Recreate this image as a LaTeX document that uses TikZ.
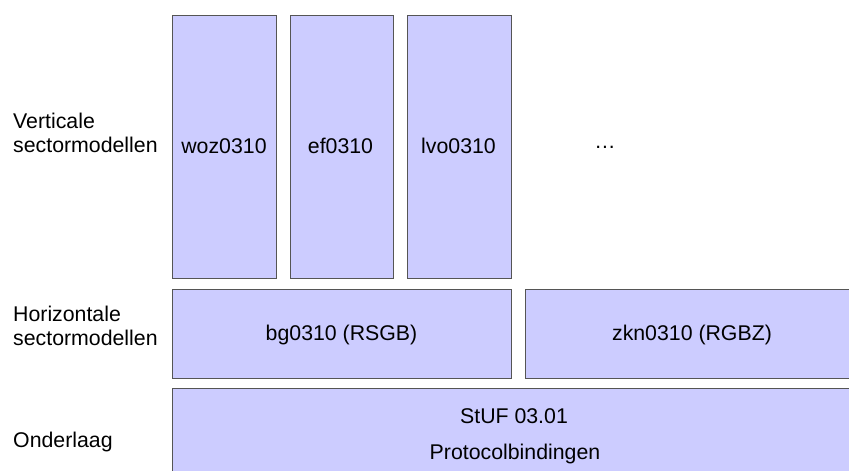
\documentclass[tikz,border=0pt]{standalone}
\usepackage{fontspec}
\setmainfont{Liberation Sans}
\definecolor{boxfill}{HTML}{CCCCFF}
\definecolor{boxline}{HTML}{555555}
\begin{document}
\begin{tikzpicture}[x=1pt,y=-1pt,
  blk/.style={draw=boxline,fill=boxfill,line width=1pt,inner sep=0pt,rectangle},
  txt/.style={font=\fontsize{21.3}{24}\selectfont,text=black,inner sep=0pt,anchor=base},
  lbl/.style={font=\fontsize{21.3}{24}\selectfont,text=black,inner sep=0pt,align=left,anchor=base west}]
\useasboundingbox (0,0) rectangle (849,471);
\clip (0,0) rectangle (849,471);
\node[blk,minimum width=104pt,minimum height=263pt] (woz) at (224,146.5) {};
\node[blk,minimum width=103pt,minimum height=263pt] (ef) at (341.5,146.5) {};
\node[blk,minimum width=104pt,minimum height=263pt] (lvo) at (459,146.5) {};
\node[txt] (wozt) at (224,153) {woz0310};
\node[txt] (eft) at (340.5,153) {ef0310};
\node[txt] (lvot) at (458.5,153) {lvo0310};
\node[txt] (dots) at (605,148) {\dots};
\node[blk,minimum width=339pt,minimum height=89pt] (bg) at (341.5,333.5) {};
\node[txt] (bgt) at (341.5,340) {bg0310 (RSGB)};
\node[blk,minimum width=334pt,minimum height=89pt] (zkn) at (692,333.5) {};
\node[txt] (zknt) at (692,340) {zkn0310 (RGBZ)};
\node[blk,minimum width=686pt,minimum height=100pt] (stuf) at (515,438) {};
\node[txt] (stuft) at (514,423) {StUF 03.01};
\node[txt] (prot) at (515,459) {Protocolbindingen};
\node[lbl] (vert) at (13,152) {Verticale\\sectormodellen};
\node[lbl] (hor) at (13,345) {Horizontale\\sectormodellen};
\node[lbl] (ond) at (13,447) {Onderlaag};
\end{tikzpicture}
\end{document}
